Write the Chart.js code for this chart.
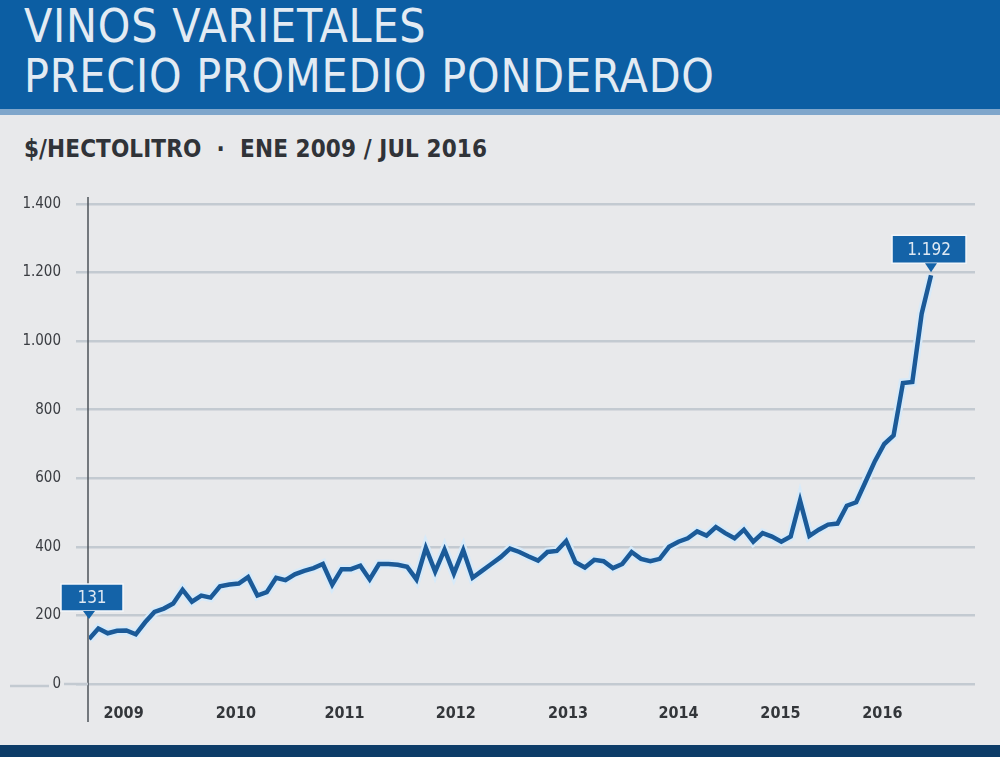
<!DOCTYPE html>
<html>
<head>
<meta charset="utf-8">
<script src="https://cdn.jsdelivr.net/npm/chart.js@4"></script>
<style>
  body { margin: 0; width: 1000px; height: 757px; background: #e8e9eb; overflow: hidden;
         font-family: "DejaVu Sans Condensed", "Liberation Sans Narrow", "Roboto", sans-serif; }
  #header { position: absolute; left: 0; top: 0; width: 1000px; height: 109px; background: #0c5ea3;
            border-bottom: 6px solid #7fa6cb; }
  #header div { position: absolute; left: 24px; color: #e3ebf3; font-size: 46px; line-height: 46px; letter-spacing: 0.8px; }
  #sub { position: absolute; left: 24px; top: 135px; color: #303338; font-size: 24px; font-weight: bold; letter-spacing: 0.1px; }
  #footer { position: absolute; left: 0; top: 745px; width: 1000px; height: 12px; background: #0d3c68; }
  #wrap { position: absolute; left: 0; top: 180px; width: 1000px; height: 560px; }
</style>
</head>
<body>
<div id="header">
  <div style="top:3px">VINOS VARIETALES</div>
  <div style="top:53px">PRECIO PROMEDIO PONDERADO</div>
</div>
<div id="sub">$/HECTOLITRO &nbsp;·&nbsp; ENE 2009 / JUL 2016</div>
<div id="wrap"><canvas id="myChart"></canvas></div>
<div id="footer"></div>
<script>
// meses ene 2009 .. jul 2016
var monthNames = ['Ene','Feb','Mar','Abr','May','Jun','Jul','Ago','Sep','Oct','Nov','Dic'];
var yearLabels = ['2009','2010','2011','2012','2013','2014','2015','2016'];
// donde cae cada etiqueta de año (en meses desde ene 2009)
var yearTickIdx = [3.7, 15.7, 27.3, 39.2, 51.2, 63, 73.9, 84.8];
var yTicks = [0, 200, 400, 600, 800, 1000, 1200, 1400];

// precio promedio ponderado, $/hl
var precio = [
  131,162,148,155,156,145,180,210,220,235,
  275,240,258,252,285,290,293,312,258,268,
  310,303,320,330,338,350,290,335,335,345,
  305,350,350,348,342,305,397,328,392,322,
  390,310,330,350,370,395,385,372,360,385,
  388,417,355,340,362,358,338,350,385,365,
  358,365,400,415,425,445,433,458,440,425,
  450,415,440,430,415,430,535,432,450,465,
  468,520,530,590,650,700,725,878,881,1080,1192
];

var labels = [];
for (var i = 0; i < precio.length; i++) {
    labels.push(monthNames[i % 12] + ' ' + yearLabels[Math.floor(i / 12)]);
}
var puntos = precio.map(function(v, i) { return { x: i, y: v }; });

function fmt(v) {
    return String(v).replace(/\B(?=(\d{3})+(?!\d))/g, '.');
}

var fontName = '"DejaVu Sans Condensed", "Liberation Sans Narrow", Roboto, sans-serif';

// eje vertical y cuadros de valor
var extras = {
    id: 'extras',
    beforeDatasetsDraw: function(chart) {
        var ctx = chart.ctx;
        var xs = chart.scales.x, ys = chart.scales.y;
        var x0 = xs.getPixelForValue(0) - 1;
        var y0 = ys.getPixelForValue(0);
        ctx.save();
        ctx.strokeStyle = '#4d5258';
        ctx.lineWidth = 1.5;
        ctx.beginPath();
        ctx.moveTo(x0, ys.getPixelForValue(1400) - 7);
        ctx.lineTo(x0, y0 + 38);
        ctx.stroke();
        // linea del cero un poco mas larga (sin tapar el "0")
        ctx.strokeStyle = '#c3cad1';
        ctx.lineWidth = 2.5;
        ctx.beginPath();
        ctx.moveTo(10, y0 + 2);
        ctx.lineTo(49, y0 + 2);
        ctx.moveTo(64, y0);
        ctx.lineTo(x0, y0);
        ctx.stroke();
        ctx.restore();
    },
    afterDatasetsDraw: function(chart) {
        var ctx = chart.ctx;
        var pts = chart.getDatasetMeta(1).data;
        var first = pts[0], last = pts[pts.length - 1];
        drawBox(ctx, first.x + 3, first.y - 28, 62, 27, first.x, first.y - 20, fmt(precio[0]));
        drawBox(ctx, last.x - 2, last.y - 12, 74, 28, last.x, last.y - 3, fmt(precio[precio.length - 1]));
    }
};

function drawBox(ctx, cx, bottom, w, h, tipX, tipY, txt) {
    ctx.save();
    ctx.fillStyle = '#1463a8';
    ctx.strokeStyle = '#f2f6fa';
    ctx.lineWidth = 1.5;
    ctx.beginPath();
    ctx.rect(cx - w / 2, bottom - h, w, h);
    ctx.fill();
    ctx.stroke();
    ctx.beginPath();
    ctx.moveTo(tipX - 6, bottom);
    ctx.lineTo(tipX + 6, bottom);
    ctx.lineTo(tipX, tipY);
    ctx.closePath();
    ctx.fill();
    ctx.fillStyle = '#dfe9f3';
    ctx.font = '17px ' + fontName;
    ctx.textAlign = 'center';
    ctx.textBaseline = 'middle';
    ctx.fillText(txt, cx, bottom - h / 2 + 1);
    ctx.restore();
}

var ctx1 = document.getElementById('myChart').getContext('2d');
var myChart = new Chart(ctx1, {
    type: 'line',
    data: {
        labels: labels,
        datasets: [{
            label: 'halo',
            data: puntos,
            borderColor: 'rgba(214,234,250,0.95)',
            borderWidth: 9,
            pointRadius: 0,
            tension: 0,
            order: 2
        }, {
            label: '$/hl',
            data: puntos,
            borderColor: '#1b5a98',
            borderWidth: 4.5,
            pointRadius: 0,
            tension: 0,
            order: 1
        }]
    },
    options: {
        responsive: true,
        maintainAspectRatio: false,
        animation: false,
        layout: { padding: { top: 21, right: 25, left: 0, bottom: 0 } },
        plugins: { legend: { display: false }, tooltip: { enabled: false } },
        scales: {
            x: {
                type: 'linear',
                min: 0,
                max: 94.7,
                grid: { display: false },
                border: { display: false },
                afterBuildTicks: function(scale) {
                    scale.ticks = yearTickIdx.map(function(v) { return { value: v }; });
                },
                afterFit: function(scale) { scale.height = 56; },
                ticks: {
                    autoSkip: false,
                    maxRotation: 0,
                    padding: 12,
                    color: '#33363a',
                    font: { family: fontName, size: 16, weight: 'bold' },
                    callback: function(v, i) { return yearLabels[i]; }
                }
            },
            y: {
                min: 0,
                max: 1400,
                afterBuildTicks: function(scale) {
                    scale.ticks = yTicks.map(function(v) { return { value: v }; });
                },
                afterFit: function(scale) { scale.width = 89; },
                grid: { color: '#c3cad1', lineWidth: 2.5, tickLength: 13, drawTicks: true },
                border: { display: false },
                ticks: {
                    padding: 15,
                    color: '#3a3d42',
                    font: { family: fontName, size: 15 },
                    callback: function(v) { return fmt(v); }
                }
            }
        }
    },
    plugins: [extras]
});
</script>
</body>
</html>
